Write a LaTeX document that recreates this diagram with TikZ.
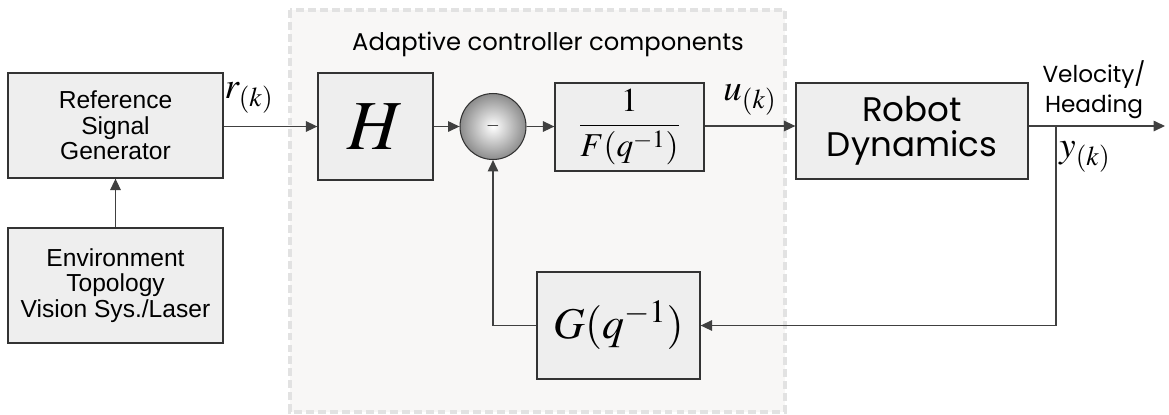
\documentclass[tikz,border=0pt]{standalone}
\usepackage{mathptmx}
\usepackage[no-math]{fontspec}
\setmainfont{Liberation Sans}
\newfontfamily\gothicfont{Poppins}
\usetikzlibrary{positioning, arrows.meta, shapes.geometric}
\definecolor{linegray}{RGB}{64,64,64}
\definecolor{boxfill}{RGB}{238,238,238}
\definecolor{boxdraw}{RGB}{51,51,51}
\definecolor{panelfill}{RGB}{248,247,246}
\definecolor{paneldash}{RGB}{226,226,226}
\tikzset{
  block/.style={
    draw=boxdraw, fill=boxfill, line width=0.75pt,
    align=center, inner sep=2pt, font=\fontsize{14}{14.5}\selectfont
  },
  mathblock/.style={block, font=\fontsize{25}{28}\selectfont},
  sumnode/.style={
    circle, draw=boxdraw, line width=0.6pt, minimum size=1.32cm,
    inner sep=0pt, shading=radial, inner color=white, outer color=gray!90
  },
  arrow/.style={-{Triangle[length=6.5pt, width=6pt]}, line width=0.7pt, linegray},
  wire/.style={line width=0.7pt, linegray},
  siglabel/.style={font=\fontsize{21}{23}\selectfont}
}

\begin{document}
\begin{tikzpicture}[x=0.02cm, y=-0.02cm]
  \useasboundingbox (0,0) rectangle (1169,414);
  % controller panel
  \draw[fill=panelfill, draw=paneldash, line width=2.3pt, dash pattern=on 4.5pt off 2.3pt]
    (290,10) rectangle (785,412);
  \node (title) at (548,44) [font=\gothicfont\fontsize{13.8}{15}\selectfont] {Adaptive controller components};

  \node (ref) at (115.5,125.5) [block, minimum width=4.3cm, minimum height=2.1cm] {Reference\\Signal\\Generator};
  \node (env) at (115.5,285.5) [block, minimum width=4.3cm, minimum height=2.3cm] {Environment\\Topology\\Vision Sys./Laser};
  \node (H) at (375.5,126.5) [mathblock, minimum width=2.3cm, minimum height=2.14cm, font=\fontsize{40}{44}\selectfont] {$H$};
  \node (sum) at (493,126.5) [sumnode] {\fontsize{10}{10}\selectfont$-$};
  \node (F) at (629.5,127) [mathblock, minimum width=2.98cm, minimum height=1.76cm, font=\fontsize{19}{22}\selectfont] {$\displaystyle\frac{1}{F(q^{-1})}$};
  \node (robot) at (912,131) [block, minimum width=4.64cm, minimum height=1.92cm, font=\gothicfont\fontsize{19.4}{20}\selectfont] {Robot\\Dynamics};
  \node (G) at (618.5,325.5) [mathblock, minimum width=3.26cm, minimum height=2.14cm] {$G(q^{-1})$};

  \coordinate (tap) at (1056,126);
  \coordinate (out) at (1165,126);

  \node (r) at (249,98) [siglabel] {$r_{(k)}$};
  \node (u) at (750,100) [siglabel] {$u_{(k)}$};
  \node (y) at (1085,157) [siglabel] {$y_{(k)}$};
  \node (vel) at (1094,90) [align=center, font=\gothicfont\fontsize{13.2}{17}\selectfont] {Velocity/\\Heading};

  \draw[arrow] (env) -- (ref);
  \draw[arrow] (ref.east |- H.west) -- (H.west);
  \draw[arrow] (H) -- (sum);
  \draw[arrow] (sum) -- (F.west |- sum.east);
  \draw[arrow] (F.east |- tap) -- (robot.west |- tap);
  \draw[arrow] (robot.east |- tap) -- (out);
  \draw[arrow] (tap) |- (G.east);
  \draw[arrow] (G.west) -| (sum.south);
\end{tikzpicture}
\end{document}
